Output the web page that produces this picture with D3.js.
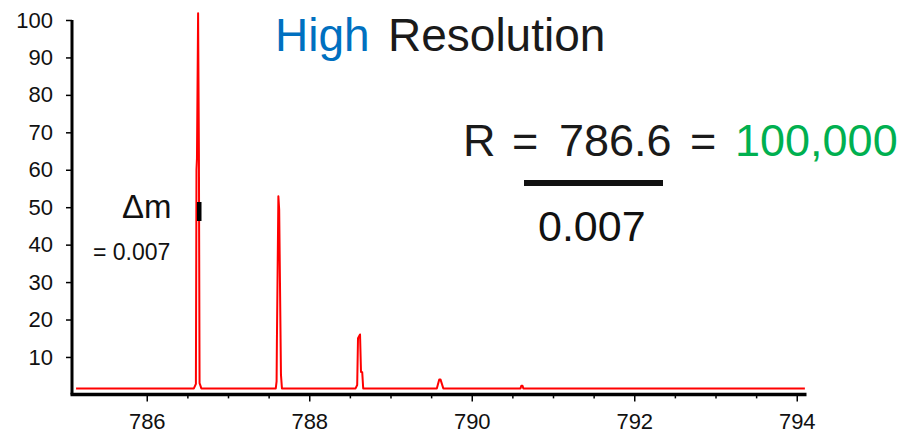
<!DOCTYPE html>
<html>
<head>
<meta charset="utf-8">
<script src="https://d3js.org/d3.v7.min.js"></script>
<style>
  body { margin: 0; background: #fff; }
  svg text { font-family: "Liberation Sans", Arial, sans-serif; }
</style>
</head>
<body>
<div id="chart"></div>
<script>
// spectrum (m/z, relative intensity)
var mz = [785.13, 786.580, 786.605, 786.612, 786.618, 786.632, 786.642, 786.650, 786.672,
          787.588, 787.598, 787.602, 787.620, 787.630, 787.652, 787.664,
          788.570, 788.590, 788.600, 788.625, 788.637, 788.652, 788.664,
          789.570, 789.600, 789.615, 789.650,
          790.600, 790.610, 790.625, 790.635, 794.10];
var intensity = [1.6, 1.6, 2.8, 60, 63, 101.8, 64, 3, 1.6,
                 1.6, 3.5, 14.5, 52.9, 49.3, 5.2, 1.6,
                 1.6, 2.5, 15, 16, 6, 5.9, 1.6,
                 1.6, 4.0, 4.0, 1.6,
                 1.6, 2.3, 2.3, 1.6, 1.6];
var yTicks = [10, 20, 30, 40, 50, 60, 70, 80, 90, 100];
var xMajorTicks = [786, 788, 790, 792, 794];
var xMinorTicks = [786.5, 787, 787.5, 788.5, 789, 789.5, 790.5, 791, 791.5, 792.5, 793, 793.5];

var width = 908, height = 433;
var svg = d3.select("#chart").append("svg")
  .attr("width", width).attr("height", height);

var x = d3.scaleLinear().domain([785.08, 794.12]).range([72, 806.5]);
var y = d3.scaleLinear().domain([0, 100]).range([394.4, 20]);

// y axis
var yAxis = svg.append("g").attr("transform", "translate(72,0)")
  .call(d3.axisLeft(y).tickValues(yTicks).tickSize(6).tickPadding(13).tickSizeOuter(0));
yAxis.select(".domain").attr("stroke-width", 3).attr("d", "M0," + y(0) + "V" + y(100));
yAxis.selectAll(".tick line").attr("stroke-width", 1.5);
yAxis.selectAll("text").attr("font-size", 22).attr("fill", "#111")
  .style("font-family", "'Liberation Sans', Arial, sans-serif");

// x axis, major ticks with labels
var xAxis = svg.append("g").attr("transform", "translate(0," + y(0) + ")")
  .call(d3.axisBottom(x).tickValues(xMajorTicks).tickFormat(d3.format("d"))
    .tickSize(7).tickPadding(12).tickSizeOuter(0));
xAxis.select(".domain").attr("stroke-width", 3.5).attr("d", "M70.5,0H806.5");
xAxis.selectAll(".tick line").attr("stroke-width", 1.5);
xAxis.selectAll("text").attr("font-size", 22).attr("fill", "#111")
  .style("font-family", "'Liberation Sans', Arial, sans-serif");

// minor ticks
svg.append("g").attr("transform", "translate(0," + y(0) + ")")
  .call(d3.axisBottom(x).tickValues(xMinorTicks).tickSize(4).tickFormat(""))
  .call(function (g) { g.select(".domain").remove(); })
  .selectAll(".tick line").attr("stroke-width", 1.5);

// spectrum line
var pts = mz.map(function (d, i) { return [d, intensity[i]]; });
svg.append("path")
  .datum(pts)
  .attr("fill", "none")
  .attr("stroke", "#ff0000")
  .attr("stroke-width", 2)
  .attr("stroke-linejoin", "round")
  .attr("d", d3.line().x(function (d) { return x(d[0]); }).y(function (d) { return y(d[1]); }));

// delta m marker on the main peak
svg.append("rect").attr("x", 197).attr("y", 202).attr("width", 4.5).attr("height", 19).attr("fill", "#000");

// title
svg.append("text").attr("x", 275).attr("y", 51).attr("font-size", 46)
  .attr("fill", "#0070c0").text("High");
svg.append("text").attr("x", 388).attr("y", 51).attr("font-size", 46)
  .attr("fill", "#1a1a1a").text("Resolution");

// resolution formula
var fy = 156;
svg.append("text").attr("x", 463).attr("y", fy).attr("font-size", 45).attr("fill", "#1a1a1a").text("R");
svg.append("text").attr("x", 512).attr("y", fy).attr("font-size", 45).attr("fill", "#1a1a1a").text("=");
svg.append("text").attr("x", 559).attr("y", fy).attr("font-size", 45).attr("fill", "#1a1a1a").text("786.6");
svg.append("text").attr("x", 690).attr("y", fy).attr("font-size", 45).attr("fill", "#1a1a1a").text("=");
svg.append("text").attr("x", 735).attr("y", fy).attr("font-size", 45).attr("fill", "#00b050").text("100,000");
svg.append("rect").attr("x", 524).attr("y", 180).attr("width", 139).attr("height", 6).attr("fill", "#111");
svg.append("text").attr("x", 538).attr("y", 241).attr("font-size", 43).attr("fill", "#111").text("0.007");

// delta m label
svg.append("text").attr("x", 122).attr("y", 218).attr("font-size", 33).attr("fill", "#111").text("Δm");
svg.append("text").attr("x", 93).attr("y", 260).attr("font-size", 23).attr("fill", "#111").text("= 0.007");
</script>
</body>
</html>
